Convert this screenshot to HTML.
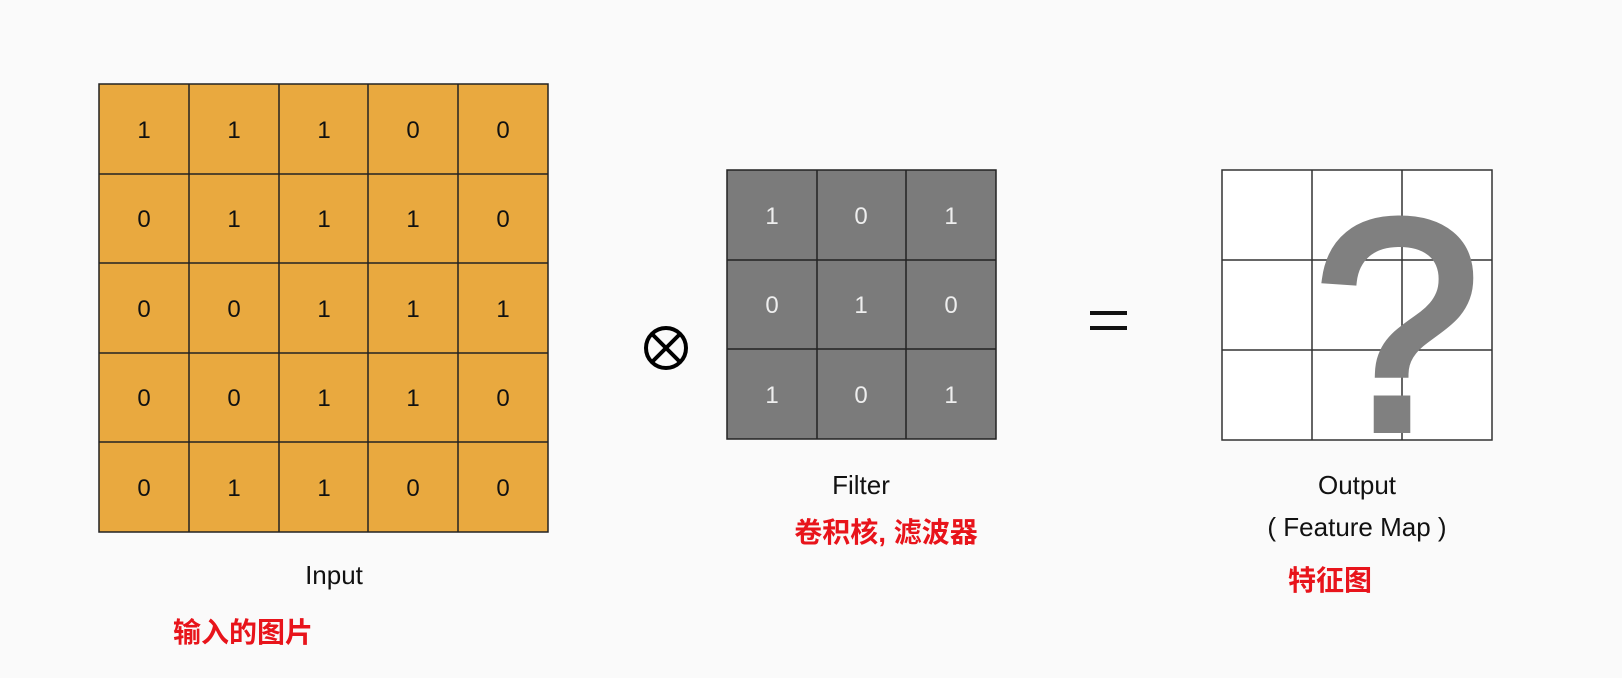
<!DOCTYPE html>
<html><head><meta charset="utf-8"><style>
html,body{margin:0;padding:0;background:#fafafa;}
svg{display:block}
</style></head><body>
<svg width="1622" height="678" viewBox="0 0 1622 678" xmlns="http://www.w3.org/2000/svg" font-family="Liberation Sans, sans-serif">
<rect width="1622" height="678" fill="#fafafa"/>
<rect x="99" y="84" width="449" height="448" fill="#e9a93f" stroke="#222" stroke-width="1.5"/>
<g stroke="#222" stroke-width="1.5">
<line x1="189" y1="84" x2="189" y2="532"/><line x1="279" y1="84" x2="279" y2="532"/><line x1="368" y1="84" x2="368" y2="532"/><line x1="458" y1="84" x2="458" y2="532"/>
<line x1="99" y1="174" x2="548" y2="174"/><line x1="99" y1="263" x2="548" y2="263"/><line x1="99" y1="353" x2="548" y2="353"/><line x1="99" y1="442" x2="548" y2="442"/>
</g>
<g font-size="24" fill="#111" text-anchor="middle">
<text x="144" y="138">1</text><text x="234" y="138">1</text><text x="324" y="138">1</text><text x="413" y="138">0</text><text x="503" y="138">0</text>
<text x="144" y="227">0</text><text x="234" y="227">1</text><text x="324" y="227">1</text><text x="413" y="227">1</text><text x="503" y="227">0</text>
<text x="144" y="317">0</text><text x="234" y="317">0</text><text x="324" y="317">1</text><text x="413" y="317">1</text><text x="503" y="317">1</text>
<text x="144" y="406">0</text><text x="234" y="406">0</text><text x="324" y="406">1</text><text x="413" y="406">1</text><text x="503" y="406">0</text>
<text x="144" y="496">0</text><text x="234" y="496">1</text><text x="324" y="496">1</text><text x="413" y="496">0</text><text x="503" y="496">0</text>
</g>
<text x="334" y="584" font-size="26" text-anchor="middle" fill="#111">Input</text>
<text x="173" y="642" font-size="28" font-weight="bold" fill="#e8141b" font-family="Liberation Sans, Noto Sans CJK SC, sans-serif">输入的图片</text>
<circle cx="666" cy="348" r="20" fill="none" stroke="#000" stroke-width="4"/>
<line x1="652" y1="334" x2="680" y2="362" stroke="#000" stroke-width="4"/>
<line x1="680" y1="334" x2="652" y2="362" stroke="#000" stroke-width="4"/>
<rect x="727" y="170" width="269" height="269" fill="#7b7b7b" stroke="#222" stroke-width="1.5"/>
<g stroke="#222" stroke-width="1.5">
<line x1="817" y1="170" x2="817" y2="439"/><line x1="906" y1="170" x2="906" y2="439"/>
<line x1="727" y1="260" x2="996" y2="260"/><line x1="727" y1="349" x2="996" y2="349"/>
</g>
<g font-size="24" fill="#eee" text-anchor="middle">
<text x="772" y="224">1</text><text x="861" y="224">0</text><text x="951" y="224">1</text>
<text x="772" y="313">0</text><text x="861" y="313">1</text><text x="951" y="313">0</text>
<text x="772" y="403">1</text><text x="861" y="403">0</text><text x="951" y="403">1</text>
</g>
<text x="861" y="494" font-size="26" text-anchor="middle" fill="#111">Filter</text>
<text x="886" y="542" font-size="28" font-weight="bold" text-anchor="middle" fill="#e8141b" font-family="Liberation Sans, Noto Sans CJK SC, sans-serif">卷积核, 滤波器</text>
<rect x="1090" y="311" width="37" height="4" fill="#111"/>
<rect x="1090" y="326" width="37" height="4" fill="#111"/>
<rect x="1222" y="170" width="270" height="270" fill="#fff" stroke="#333" stroke-width="1.5"/>
<g stroke="#333" stroke-width="1.5">
<line x1="1312" y1="170" x2="1312" y2="440"/><line x1="1402" y1="170" x2="1402" y2="440"/>
<line x1="1222" y1="260" x2="1492" y2="260"/><line x1="1222" y1="350" x2="1492" y2="350"/>
</g>
<text x="1397" y="429" font-size="300" text-anchor="middle" fill="#808080" stroke="#808080" stroke-width="8" stroke-linejoin="miter">?</text>
<text x="1357" y="494" font-size="26" text-anchor="middle" fill="#111">Output</text>
<text x="1357" y="536" font-size="26" text-anchor="middle" fill="#111">( Feature Map )</text>
<text x="1330" y="590" font-size="28" font-weight="bold" text-anchor="middle" fill="#e8141b" font-family="Liberation Sans, Noto Sans CJK SC, sans-serif">特征图</text>
</svg>
</body></html>
